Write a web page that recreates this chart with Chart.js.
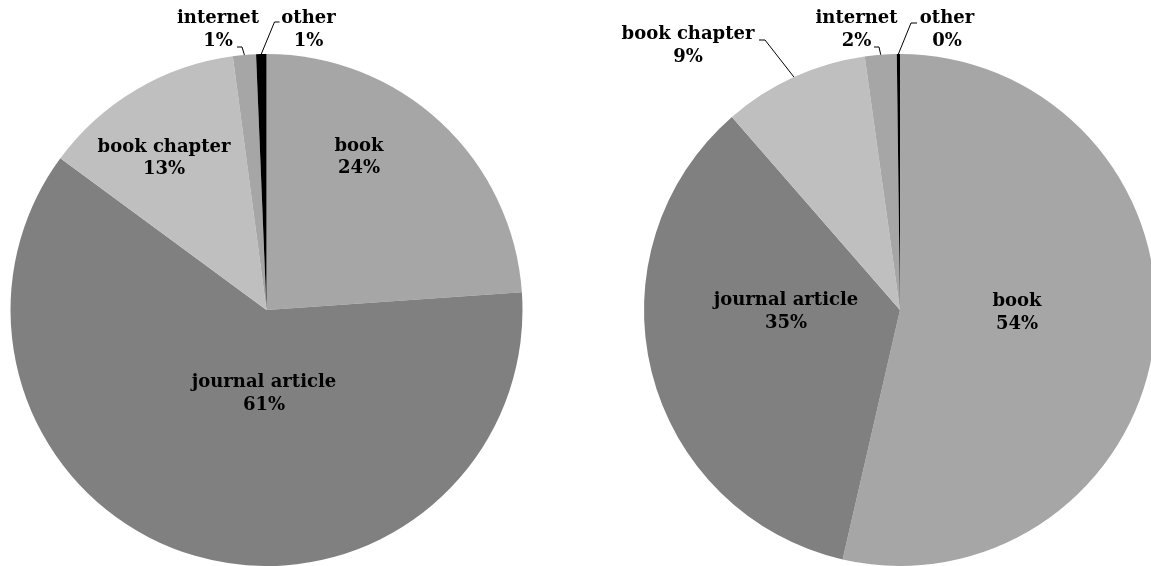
<!DOCTYPE html>
<html>
<head>
<meta charset="utf-8">
<script src="https://cdn.jsdelivr.net/npm/chart.js@4.4.0/dist/chart.umd.min.js"></script>
<style>
  html, body { margin: 0; padding: 0; background: #fff; overflow: hidden; width: 1151px; height: 566px; }
  canvas { position: absolute; top: 0; }
  #pie-left { left: 0; }
  #pie-right { left: 580px; }
</style>
</head>
<body>
<canvas id="pie-left" width="534" height="566"></canvas>
<canvas id="pie-right" width="586" height="566"></canvas>
<script>
const categories = ['book', 'journal article', 'book chapter', 'internet', 'other'];
const leftShares = [23.9, 61.2, 12.8, 1.45, 0.65];
const rightShares = [53.6, 35.0, 9.2, 2.0, 0.2];
const sliceColors = ['#a6a6a6', '#808080', '#bfbfbf', '#a6a6a6', '#000000'];

// label block centres relative to the pie centre; leader = start offset + elbow length
const leftLabels = [
  { dx: 92.5, dy: -152.5 },
  { dx: -2.5, dy: 84 },
  { dx: -102.5, dy: -151.5 },
  { dx: -48.5, dy: -280, leader: { sx: 19, sy: 17, hx: 5 } },
  { dx: 42, dy: -280, leader: { sx: -29, sy: -8, hx: -5 } },
];
const rightLabels = [
  { dx: 117, dy: 3 },
  { dx: -114, dy: 2 },
  { dx: -212, dy: -264, leader: { sx: 71, sy: -6, hx: 6 } },
  { dx: -43.5, dy: -280, leader: { sx: 17.5, sy: 17, hx: 5 } },
  { dx: 47, dy: -280, leader: { sx: -30, sy: -7, hx: -6 } },
];

const LABEL_FONT = 'bold 18px "DejaVu Serif", serif';
const LINE_GAP = 22.5;

const pieLabels = {
  id: 'pieLabels',
  afterDatasetsDraw(chart, args, opts) {
    const ctx = chart.ctx;
    const meta = chart.getDatasetMeta(0);
    const values = chart.data.datasets[0].data;
    const total = values.reduce((a, b) => a + b, 0);
    ctx.save();
    ctx.font = LABEL_FONT;
    ctx.fillStyle = '#000';
    ctx.strokeStyle = '#000';
    ctx.lineWidth = 1;
    ctx.textAlign = 'center';
    ctx.textBaseline = 'middle';
    meta.data.forEach((arc, i) => {
      const p = arc.getProps(['x', 'y', 'startAngle', 'endAngle', 'outerRadius'], true);
      const place = opts.layout[i];
      const cx = p.x + place.dx;
      const cy = p.y + place.dy;
      const pct = Math.round(values[i] / total * 100) + '%';
      ctx.fillText(chart.data.labels[i], cx, cy - LINE_GAP / 2);
      ctx.fillText(pct, cx, cy + LINE_GAP / 2);
      if (place.leader) {
        const mid = (p.startAngle + p.endAngle) / 2;
        const x0 = cx + place.leader.sx;
        const y0 = cy + place.leader.sy;
        ctx.beginPath();
        ctx.moveTo(x0, y0);
        ctx.lineTo(x0 + place.leader.hx, y0);
        ctx.lineTo(p.x + Math.cos(mid) * p.outerRadius, p.y + Math.sin(mid) * p.outerRadius);
        ctx.stroke();
      }
    });
    ctx.restore();
  }
};

function makePie(id, shares, layout, padding) {
  return new Chart(document.getElementById(id), {
    type: 'pie',
    plugins: [pieLabels],
    data: {
      labels: categories,
      datasets: [{
        data: shares,
        backgroundColor: sliceColors,
        borderWidth: 0,
      }],
    },
    options: {
      responsive: false,
      animation: false,
      devicePixelRatio: 1,
      layout: { padding },
      plugins: {
        legend: { display: false },
        tooltip: { enabled: false },
        pieLabels: { layout },
      },
    },
  });
}

makePie('pie-left', leftShares, leftLabels, { top: 54, bottom: 0, left: 10, right: 11 });
makePie('pie-right', rightShares, rightLabels, { top: 54, bottom: 0, left: 64, right: 10 });
</script>
</body>
</html>
